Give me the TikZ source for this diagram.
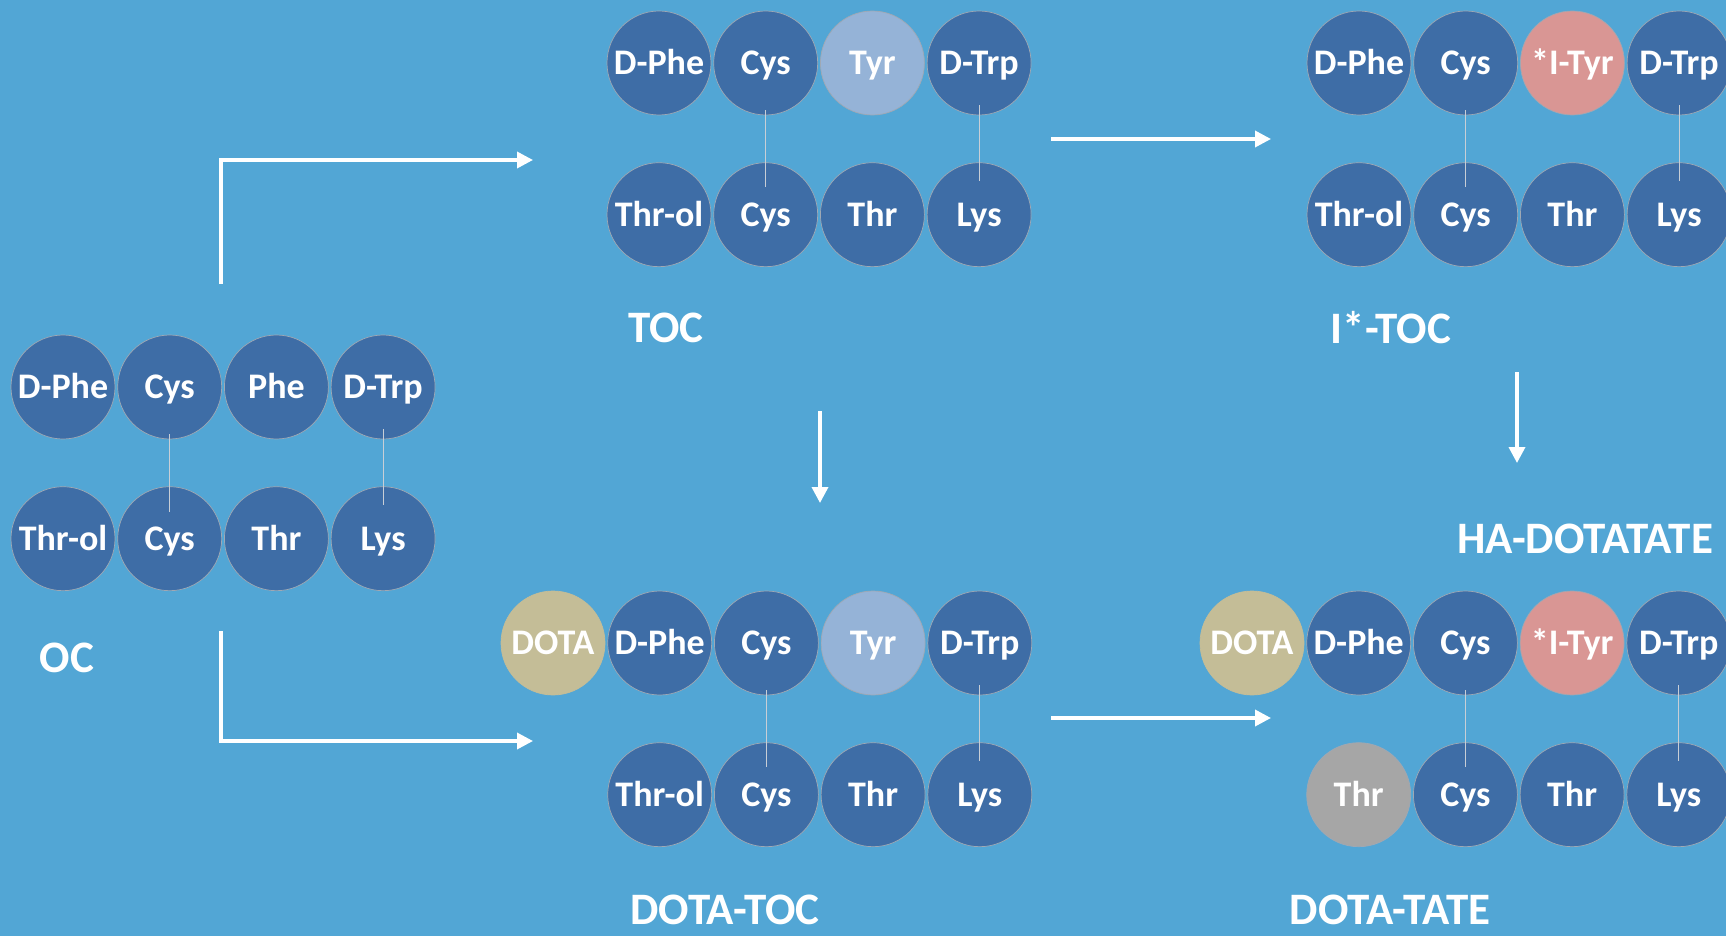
\documentclass[tikz,border=0pt]{standalone}
\usepackage{fontspec}
\setmainfont{Carlito}
\usetikzlibrary{arrows.meta,positioning}
\definecolor{bgblue}{HTML}{52A6D5}
\definecolor{aablue}{HTML}{3E6DA6}
\definecolor{tyrblue}{HTML}{95B3D7}
\definecolor{iodpink}{HTML}{D99694}
\definecolor{dotatan}{HTML}{C4BD97}
\definecolor{thrgrey}{HTML}{A6A6A6}
\definecolor{rimgrey}{HTML}{9FA8B4}
\definecolor{bondgrey}{HTML}{C8CED6}

\begin{document}
\begin{tikzpicture}[x=1pt,y=-1pt,node distance=47pt and 2pt,
    aa/.style={circle, draw=rimgrey, line width=0.7pt, fill=aablue, minimum size=104pt, inner sep=0pt,
               text height=23pt, text depth=0pt,
               text=white, font=\fontsize{36}{36}\selectfont\bfseries},
    tyr/.style={aa, fill=tyrblue},
    ityr/.style={aa, fill=iodpink},
    dota/.style={aa, fill=dotatan, draw=dotatan},
    thr/.style={aa, fill=thrgrey},
    title/.style={text=white, font=\fontsize{45}{45}\selectfont\bfseries},
    bond/.style={draw=bondgrey, line width=0.9pt},
    flow/.style={draw=white, line width=3.5pt, -{Triangle[length=16pt,width=16pt]}}]

    \useasboundingbox (0,0) rectangle (1726,936);
    \fill[bgblue] (0,0) rectangle (1726,936);

    % OC
    \node [aa] (oc1) at (63,387) {D-Phe};
    \node [aa, right=of oc1] (oc2) {Cys};
    \node [aa, right=of oc2] (oc3) {Phe};
    \node [aa, right=of oc3] (oc4) {D-Trp};
    \node [aa, below=of oc1] (oc5) {Thr-ol};
    \node [aa, right=of oc5] (oc6) {Cys};
    \node [aa, right=of oc6] (oc7) {Thr};
    \node [aa, right=of oc7] (oc8) {Lys};
    \node [title] (ocL) at (67,658) {OC};

    % TOC
    \node [aa] (toc1) at (659,63) {D-Phe};
    \node [aa, right=of toc1] (toc2) {Cys};
    \node [tyr, right=of toc2] (toc3) {Tyr};
    \node [aa, right=of toc3] (toc4) {D-Trp};
    \node [aa, below=of toc1] (toc5) {Thr-ol};
    \node [aa, right=of toc5] (toc6) {Cys};
    \node [aa, right=of toc6] (toc7) {Thr};
    \node [aa, right=of toc7] (toc8) {Lys};
    \node [title] (tocL) at (666,328) {TOC};

    % I*-TOC
    \node [aa] (itoc1) at (1359,63) {D-Phe};
    \node [aa, right=of itoc1] (itoc2) {Cys};
    \node [ityr, right=of itoc2] (itoc3) {*I-Tyr};
    \node [aa, right=of itoc3] (itoc4) {D-Trp};
    \node [aa, below=of itoc1] (itoc5) {Thr-ol};
    \node [aa, right=of itoc5] (itoc6) {Cys};
    \node [aa, right=of itoc6] (itoc7) {Thr};
    \node [aa, right=of itoc7] (itoc8) {Lys};
    \node [title] (itocL) at (1391,328) {I*-TOC};

    % DOTA-TOC
    \node [dota] (dtoc0) at (553,643) {DOTA};
    \node [aa, right=of dtoc0] (dtoc1) {D-Phe};
    \node [aa, right=of dtoc1] (dtoc2) {Cys};
    \node [tyr, right=of dtoc2] (dtoc3) {Tyr};
    \node [aa, right=of dtoc3] (dtoc4) {D-Trp};
    \node [aa, below=of dtoc1] (dtoc5) {Thr-ol};
    \node [aa, right=of dtoc5] (dtoc6) {Cys};
    \node [aa, right=of dtoc6] (dtoc7) {Thr};
    \node [aa, right=of dtoc7] (dtoc8) {Lys};
    \node [title] (dtocL) at (725,910) {DOTA-TOC};

    % DOTA-TATE
    \node [dota] (dtate0) at (1252,643) {DOTA};
    \node [aa, right=of dtate0] (dtate1) {D-Phe};
    \node [aa, right=of dtate1] (dtate2) {Cys};
    \node [ityr, right=of dtate2] (dtate3) {*I-Tyr};
    \node [aa, right=of dtate3] (dtate4) {D-Trp};
    \node [thr, below=of dtate1] (dtate5) {Thr};
    \node [aa, right=of dtate5] (dtate6) {Cys};
    \node [aa, right=of dtate6] (dtate7) {Thr};
    \node [aa, right=of dtate7] (dtate8) {Lys};
    \node [title] (dtateL) at (1390,910) {DOTA-TATE};
    \node [title] (haL) at (1585,539) {HA-DOTATATE};

    % disulfide bridges
    \draw[bond] ([yshift=5pt]oc2.south) -- ([yshift=27pt]oc6.center)
                ([yshift=10pt]oc4.south) -- ([yshift=34pt]oc8.center)
                ([yshift=5pt]toc2.south) -- ([yshift=28pt]toc6.center)
                ([yshift=10pt]toc4.south) -- ([yshift=34pt]toc8.center)
                ([yshift=5pt]itoc2.south) -- ([yshift=28pt]itoc6.center)
                ([yshift=10pt]itoc4.south) -- ([yshift=34pt]itoc8.center)
                ([yshift=5pt]dtoc2.south) -- ([yshift=28pt]dtoc6.center)
                ([yshift=10pt]dtoc4.south) -- ([yshift=34pt]dtoc8.center)
                ([yshift=5pt]dtate2.south) -- ([yshift=28pt]dtate6.center)
                ([yshift=10pt]dtate4.south) -- ([yshift=34pt]dtate8.center);

    % reaction arrows
    \coordinate (ocUp) at (221,284);
    \coordinate (ocTurnUp) at (221,160);
    \coordinate (tocIn) at (533,160);
    \coordinate (ocDown) at (221,631);
    \coordinate (ocTurnDown) at (221,741);
    \coordinate (dtocIn) at (533,741);
    \coordinate (tocOut) at (1051,139);
    \coordinate (itocIn) at (1271,139);
    \coordinate (tocDown) at (820,411);
    \coordinate (dtocTop) at (820,503);
    \coordinate (itocDown) at (1517,372);
    \coordinate (haTop) at (1517,463);
    \coordinate (dtocOut) at (1051,718);
    \coordinate (dtateIn) at (1271,718);

    \draw[flow] (ocUp) -- (ocTurnUp) -- (tocIn);
    \draw[flow] (ocDown) -- (ocTurnDown) -- (dtocIn);
    \draw[flow] (tocOut) -- (itocIn);
    \draw[flow] (tocDown) -- (dtocTop);
    \draw[flow] (itocDown) -- (haTop);
    \draw[flow] (dtocOut) -- (dtateIn);
\end{tikzpicture}
\end{document}
